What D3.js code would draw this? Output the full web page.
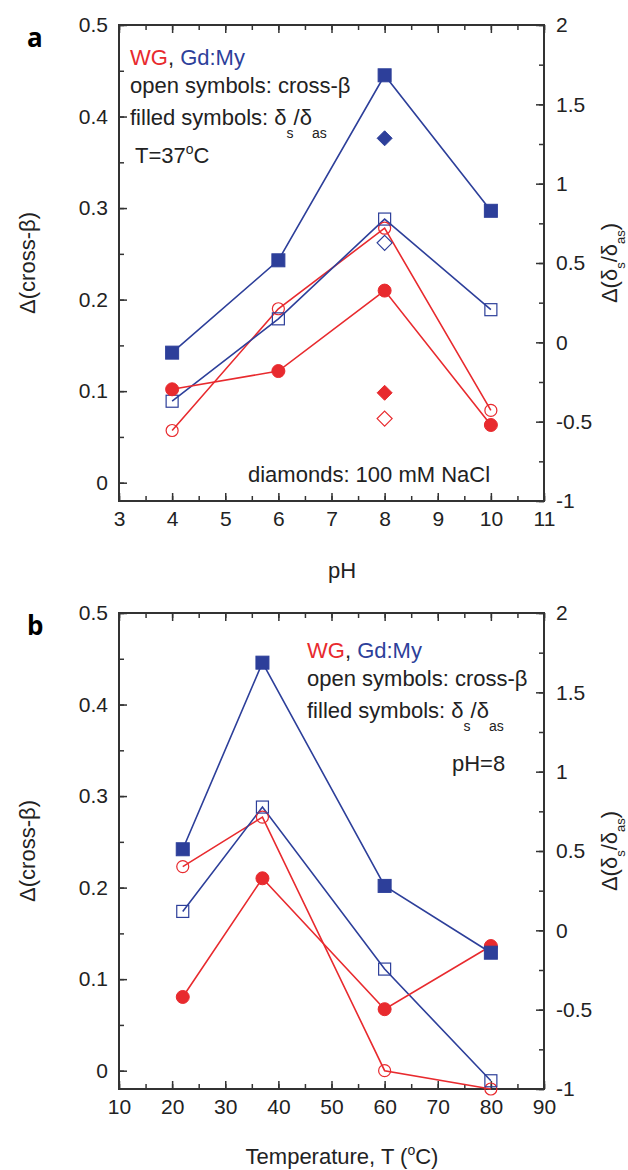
<!DOCTYPE html>
<html>
<head>
<meta charset="utf-8">
<script src="https://cdn.jsdelivr.net/npm/d3@7"></script>
<style>
  body { margin: 0; background: #fff; }
  svg { display: block; font-family: "Liberation Sans", Arial, sans-serif; }
  .tick text { font-size: 21px; fill: #222; }
  .tick line { stroke: #333; stroke-width: 1.5; }
</style>
</head>
<body>
<div id="chart"></div>
<script>
// Panel a: pH series (T = 37 C)
const phValues = [4, 6, 8, 10];
const wgCrossPH = [0.057, 0.19, 0.278, 0.079];     // open circles, left axis
const gdCrossPH = [0.089, 0.179, 0.288, 0.189];    // open squares, left axis
const wgDeltaPH = [-0.296, -0.181, 0.326, -0.521]; // filled circles, right axis
const gdDeltaPH = [-0.065, 0.517, 1.683, 0.829];   // filled squares, right axis
// diamonds: 100 mM NaCl at pH 8
const naclPH = 8;
const naclWgCross = 0.07;
const naclGdCross = 0.262;
const naclWgDelta = -0.318;
const naclGdDelta = 1.286;

// Panel b: temperature series (pH = 8)
const tempValues = [22, 37, 60, 80];
const wgCrossT = [0.223, 0.277, 0.0, -0.02];
const gdCrossT = [0.174, 0.288, 0.111, -0.011];
const wgDeltaT = [-0.42, 0.328, -0.497, -0.099];
const gdDeltaT = [0.511, 1.687, 0.28, -0.141];

// Tick labels
const leftTicks = [0, 0.1, 0.2, 0.3, 0.4, 0.5];
const rightTicks = [-1, -0.5, 0, 0.5, 1, 1.5, 2];
const phTicks = [3, 4, 5, 6, 7, 8, 9, 10, 11];
const tempTicks = [10, 20, 30, 40, 50, 60, 70, 80, 90];

const RED = '#e82a2e';
const BLUE = '#2d3f9a';

const svg = d3.select('#chart').append('svg')
  .attr('width', 628)
  .attr('height', 1170);

function drawPanel(cfg) {
  const x = d3.scaleLinear().domain(cfg.xDomain).range([119, 544]);
  const yL = d3.scaleLinear().domain([-0.02, 0.5]).range([cfg.bottom, cfg.top]);
  const yR = d3.scaleLinear().domain([-1, 2]).range([cfg.bottom, cfg.top]);

  const g = svg.append('g');

  // minor ticks
  const xMinor = d3.range(cfg.xDomain[0], cfg.xDomain[1] + 1e-9, cfg.xMinor);
  g.append('g').attr('transform', `translate(0,${cfg.bottom})`)
    .call(d3.axisBottom(x).tickValues(xMinor).tickSize(-5).tickFormat(''))
    .call(a => a.select('.domain').remove());
  g.append('g').attr('transform', `translate(0,${cfg.top})`)
    .call(d3.axisTop(x).tickValues(xMinor).tickSize(-5).tickFormat(''))
    .call(a => a.select('.domain').remove());
  g.append('g').attr('transform', 'translate(119,0)')
    .call(d3.axisLeft(yL).tickValues(d3.range(0, 0.501, 0.05)).tickSize(-5).tickFormat(''))
    .call(a => a.select('.domain').remove());
  g.append('g').attr('transform', 'translate(544,0)')
    .call(d3.axisRight(yR).tickValues(d3.range(-1, 2.001, 0.25)).tickSize(-5).tickFormat(''))
    .call(a => a.select('.domain').remove());

  // major ticks with labels
  g.append('g').attr('transform', `translate(0,${cfg.bottom})`)
    .call(d3.axisBottom(x).tickValues(cfg.xTicks).tickSize(-8).tickPadding(10).tickFormat(d => String(d)))
    .call(a => a.select('.domain').remove());
  g.append('g').attr('transform', `translate(0,${cfg.top})`)
    .call(d3.axisTop(x).tickValues(cfg.xTicks).tickSize(-8).tickFormat(''))
    .call(a => a.select('.domain').remove());
  g.append('g').attr('transform', 'translate(119,0)')
    .call(d3.axisLeft(yL).tickValues(leftTicks).tickSize(-8).tickPadding(11).tickFormat(d => String(d)))
    .call(a => a.select('.domain').remove());
  g.append('g').attr('transform', 'translate(544,0)')
    .call(d3.axisRight(yR).tickValues(rightTicks).tickSize(-8).tickPadding(12).tickFormat(d => String(d)))
    .call(a => a.select('.domain').remove());

  // frame
  g.append('rect')
    .attr('x', 119).attr('y', cfg.top)
    .attr('width', 425).attr('height', cfg.bottom - cfg.top)
    .attr('fill', 'none').attr('stroke', '#333').attr('stroke-width', 2);

  const series = [
    { vals: cfg.wgCross, y: yL, color: RED, shape: 'circle', filled: false },
    { vals: cfg.gdCross, y: yL, color: BLUE, shape: 'square', filled: false },
    { vals: cfg.wgDelta, y: yR, color: RED, shape: 'circle', filled: true },
    { vals: cfg.gdDelta, y: yR, color: BLUE, shape: 'square', filled: true }
  ];

  const line = (s) => d3.line()
    .x((d, i) => x(cfg.xVals[i]))
    .y(d => s.y(d));

  series.forEach(s => {
    g.append('path')
      .attr('d', line(s)(s.vals))
      .attr('fill', 'none')
      .attr('stroke', s.color)
      .attr('stroke-width', 1.6);
  });

  function marker(cx, cy, shape, filled, color) {
    if (shape === 'circle') {
      g.append('circle')
        .attr('cx', cx).attr('cy', cy)
        .attr('r', filled ? 6.5 : 6)
        .attr('fill', filled ? color : 'none')
        .attr('stroke', color).attr('stroke-width', filled ? 1 : 1.2);
    } else if (shape === 'square') {
      const h = filled ? 6.5 : 6;
      g.append('rect')
        .attr('x', cx - h).attr('y', cy - h)
        .attr('width', 2 * h).attr('height', 2 * h)
        .attr('fill', filled ? color : 'none')
        .attr('stroke', color).attr('stroke-width', filled ? 1 : 1.2);
    } else {
      const h = 7.5;
      g.append('path')
        .attr('d', `M${cx},${cy - h}L${cx + h},${cy}L${cx},${cy + h}L${cx - h},${cy}Z`)
        .attr('fill', filled ? color : 'none')
        .attr('stroke', color).attr('stroke-width', filled ? 1 : 1.2);
    }
  }

  series.forEach(s => {
    s.vals.forEach((v, i) => marker(x(cfg.xVals[i]), s.y(v), s.shape, s.filled, s.color));
  });

  if (cfg.nacl) {
    marker(x(naclPH), yL(naclWgCross), 'diamond', false, RED);
    marker(x(naclPH), yL(naclGdCross), 'diamond', false, BLUE);
    marker(x(naclPH), yR(naclWgDelta), 'diamond', true, RED);
    marker(x(naclPH), yR(naclGdDelta), 'diamond', true, BLUE);
  }

  // panel letter
  g.append('text')
    .attr('x', 27).attr('y', cfg.top + 22)
    .style('font-family', '"Open Sans", "DejaVu Sans", sans-serif')
    .style('font-weight', 'bold').style('font-size', '26px')
    .text(cfg.letter);

  // legend text
  const fs = '22px';
  const lx = cfg.legendX, ly = cfg.legendY;
  const t1 = g.append('text').attr('x', lx).attr('y', ly).style('font-size', fs);
  t1.append('tspan').attr('fill', RED).text('WG');
  t1.append('tspan').attr('fill', '#222').text(', ');
  t1.append('tspan').attr('fill', BLUE).text('Gd:My');

  g.append('text').attr('x', lx).attr('y', ly + 28)
    .style('font-size', fs).attr('fill', '#222')
    .text('open symbols: cross-β');

  const t3 = g.append('text').attr('x', lx).attr('y', ly + 60)
    .style('font-size', fs).attr('fill', '#222');
  t3.append('tspan').text('filled symbols: δ');
  t3.append('tspan').attr('dy', 13).style('font-size', '14px').text('s');
  t3.append('tspan').attr('dy', -13).text('/δ');
  t3.append('tspan').attr('dy', 13).style('font-size', '14px').text('as');

  const t4 = g.append('text').attr('x', cfg.condX).attr('y', cfg.condY)
    .style('font-size', fs).attr('fill', '#222');
  if (cfg.nacl) {
    t4.append('tspan').text('T=37');
    t4.append('tspan').attr('dy', -9).style('font-size', '14px').text('o');
    t4.append('tspan').attr('dy', 9).text('C');
    g.append('text').attr('x', 248).attr('y', cfg.bottom - 19)
      .style('font-size', fs).attr('fill', '#222')
      .text('diamonds: 100 mM NaCl');
  } else {
    t4.text('pH=8');
  }

  // axis titles
  const mid = (cfg.top + cfg.bottom) / 2;
  g.append('text')
    .attr('transform', `translate(35,${mid}) rotate(-90)`)
    .attr('text-anchor', 'middle')
    .style('font-size', fs).attr('fill', '#222')
    .text('Δ(cross-β)');

  const tr = g.append('text')
    .attr('transform', `translate(617,${mid}) rotate(-90)`)
    .attr('text-anchor', 'middle')
    .style('font-size', fs).attr('fill', '#222');
  tr.append('tspan').text('Δ(δ');
  tr.append('tspan').attr('dy', 8).style('font-size', '13px').text('s');
  tr.append('tspan').attr('dy', -8).text('/δ');
  tr.append('tspan').attr('dy', 8).style('font-size', '13px').text('as');
  tr.append('tspan').attr('dy', -8).text(')');

  const xt = g.append('text')
    .attr('x', 342).attr('y', cfg.bottom + cfg.xTitleDy)
    .attr('text-anchor', 'middle')
    .style('font-size', fs).attr('fill', '#222');
  if (cfg.nacl) {
    xt.text('pH');
  } else {
    xt.append('tspan').text('Temperature, T (');
    xt.append('tspan').attr('dy', -9).style('font-size', '14px').text('o');
    xt.append('tspan').attr('dy', 9).text('C)');
  }
}

drawPanel({
  letter: 'a', top: 25, bottom: 501,
  xDomain: [3, 11], xTicks: phTicks, xMinor: 0.5, xVals: phValues,
  wgCross: wgCrossPH, gdCross: gdCrossPH, wgDelta: wgDeltaPH, gdDelta: gdDeltaPH,
  nacl: true, legendX: 130, legendY: 65, condX: 135, condY: 163, xTitleDy: 77
});

drawPanel({
  letter: 'b', top: 613, bottom: 1089,
  xDomain: [10, 90], xTicks: tempTicks, xMinor: 5, xVals: tempValues,
  wgCross: wgCrossT, gdCross: gdCrossT, wgDelta: wgDeltaT, gdDelta: gdDeltaT,
  nacl: false, legendX: 307, legendY: 658, condX: 452, condY: 771, xTitleDy: 75
});
</script>
</body>
</html>
